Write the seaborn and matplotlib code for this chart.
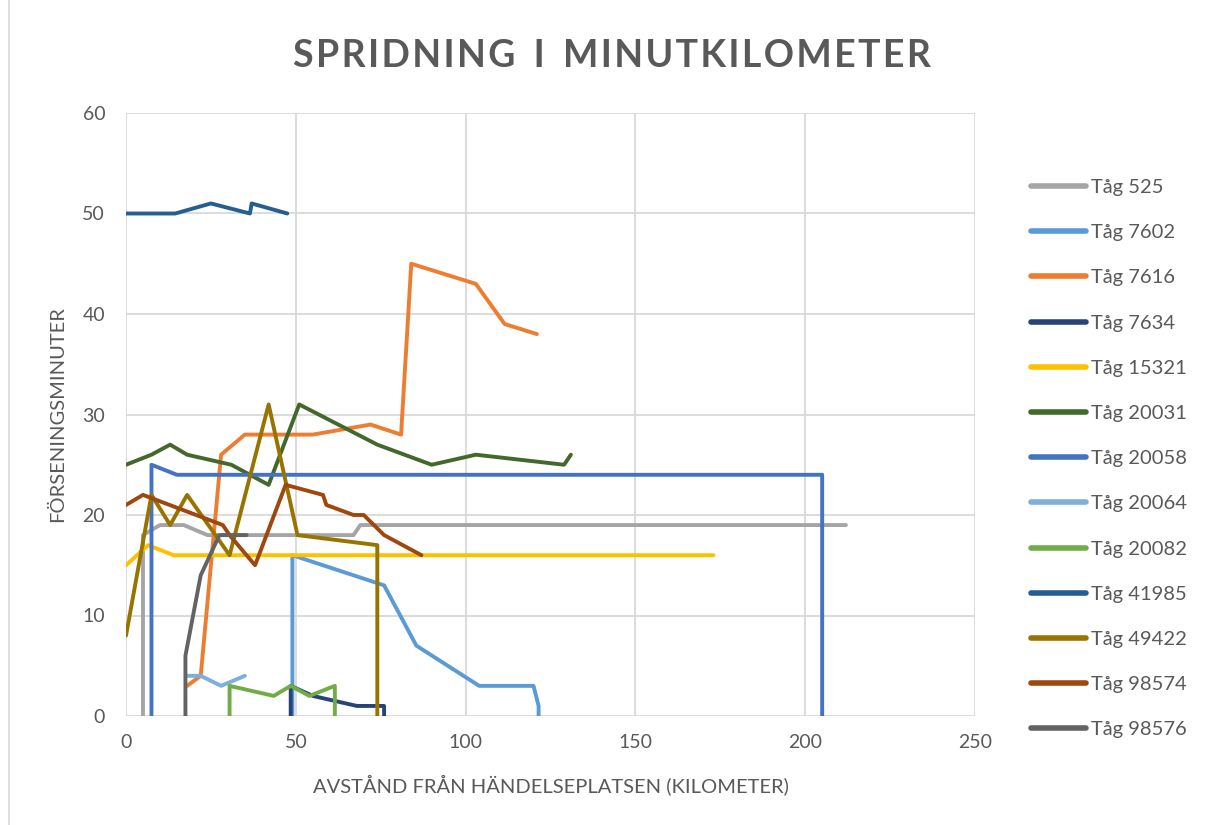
import matplotlib.pyplot as plt
import seaborn as sns
import pandas as pd
from matplotlib.lines import Line2D

# data (x = km from the incident site, y = delay minutes)
trains = ["Tåg 525", "Tåg 7602", "Tåg 7616", "Tåg 7634", "Tåg 15321", "Tåg 20031",
          "Tåg 20058", "Tåg 20064", "Tåg 20082", "Tåg 41985", "Tåg 49422",
          "Tåg 98574", "Tåg 98576"]

t525_x = [5, 5, 10, 17, 24, 67, 69, 212]
t525_y = [0, 18, 19, 19, 18, 18, 19, 19]
t7602_x = [49, 49, 76, 85.5, 104, 120, 121.5, 121.5]
t7602_y = [0, 16, 13, 7, 3, 3, 1, 0]
t7616_x = [18, 22, 28, 35, 55, 72, 81, 84, 103, 111.5, 121]
t7616_y = [3, 4, 26, 28, 28, 29, 28, 45, 43, 39, 38]
t7634_x = [48.5, 48.5, 55, 68, 76, 76]
t7634_y = [0, 3, 2, 1, 1, 0]
t15321_x = [0, 6.5, 14, 173]
t15321_y = [15, 17, 16, 16]
t20031_x = [0, 7.5, 13, 18, 31, 42, 51, 74, 90, 103, 129, 131]
t20031_y = [25, 26, 27, 26, 25, 23, 31, 27, 25, 26, 25, 26]
t20058_x = [7.5, 7.5, 15, 205, 205]
t20058_y = [0, 25, 24, 24, 0]
t20064_x = [18, 22, 28, 35]
t20064_y = [4, 4, 3, 4]
t20082_x = [30.5, 30.5, 43.5, 48.5, 54, 61.5, 61.5]
t20082_y = [0, 3, 2, 3, 2, 3, 0]
t41985_x = [0, 14.5, 25, 36.5, 37, 47.5]
t41985_y = [50, 50, 51, 50, 51, 50]
t49422_x = [0, 7.5, 13, 18, 30.5, 42, 50.5, 74, 74]
t49422_y = [8, 22, 19, 22, 16, 31, 18, 17, 0]
t98574_x = [0, 5, 28.5, 30.5, 38, 47, 58, 59, 67, 70, 76, 87]
t98574_y = [21, 22, 19, 18, 15, 23, 22, 21, 20, 20, 18, 16]
t98576_x = [17.5, 17.5, 22, 27.5, 35.5]
t98576_y = [0, 6, 14, 18, 18]

series_x = [t525_x, t7602_x, t7616_x, t7634_x, t15321_x, t20031_x, t20058_x,
            t20064_x, t20082_x, t41985_x, t49422_x, t98574_x, t98576_x]
series_y = [t525_y, t7602_y, t7616_y, t7634_y, t15321_y, t20031_y, t20058_y,
            t20064_y, t20082_y, t41985_y, t49422_y, t98574_y, t98576_y]

colors = ["#A5A5A5", "#5B9BD5", "#ED7D31", "#264478", "#FFC000", "#43682B",
          "#4472C4", "#7CAFDD", "#70AD47", "#255E91", "#997300", "#9E480E", "#636363"]

rows = []
for name, xs, ys in zip(trains, series_x, series_y):
    for i, (x, y) in enumerate(zip(xs, ys)):
        rows.append({"train": name, "order": i, "km": x, "min": y})
df = pd.DataFrame(rows)

sns.set_style("white")
plt.rcParams['font.family'] = ['Lato', 'DejaVu Sans']
txt = "#595959"

fig = plt.figure(figsize=(12.08, 8.25), dpi=100)
ax = fig.add_axes([126 / 1208, 1 - 716 / 825, (975 - 126) / 1208, (716 - 113) / 825])

sns.lineplot(data=df, x="km", y="min", hue="train", hue_order=trains,
             palette=dict(zip(trains, colors)), sort=False, estimator=None,
             linewidth=2.8, ax=ax, legend=False)

ax.set_xlim(0, 250)
ax.set_ylim(0, 60)
ax.set_xticks(range(0, 251, 50))
ax.set_yticks(range(0, 61, 10))
ax.grid(True, color="#D9D9D9", linewidth=1.3)
ax.set_axisbelow(True)
for s in ax.spines.values():
    s.set_visible(False)
ax.tick_params(length=0, labelsize=14, labelcolor=txt)
ax.tick_params(axis="y", pad=15)
ax.tick_params(axis="x", pad=13)
for lab in ax.get_xticklabels() + ax.get_yticklabels():
    lab.set_clip_on(False)

ax.set_xlabel("AVSTÅND FRÅN HÄNDELSEPLATSEN (KILOMETER)", fontsize=14.5, color=txt, labelpad=17)
ax.set_ylabel("FÖRSENINGSMINUTER", fontsize=14.5, color=txt, labelpad=12)

# spaced-out bold title
title = "SPRIDNING I MINUTKILOMETER"
spaced = "  ".join("\u200a".join(w) for w in title.split(" "))
fig.text(612 / 1208, 1 - 56 / 825, spaced, ha="center", va="center",
         fontsize=27, fontweight="bold", color=txt)

handles = [Line2D([0], [0], color=c, linewidth=4, solid_capstyle="round") for c in colors]
fig.legend(handles, trains, loc="upper left", bbox_to_anchor=(1031 / 1208, 1 - 179 / 825),
           frameon=False, fontsize=14.5, labelcolor=txt, handlelength=2.75,
           handletextpad=0.25, labelspacing=1.395, borderpad=0, borderaxespad=0)

# chart area border on the left edge
fig.add_artist(Line2D([9 / 1208, 9 / 1208], [0, 1], color="#D9D9D9", linewidth=1.2))

fig.savefig("out.png", dpi=100)
